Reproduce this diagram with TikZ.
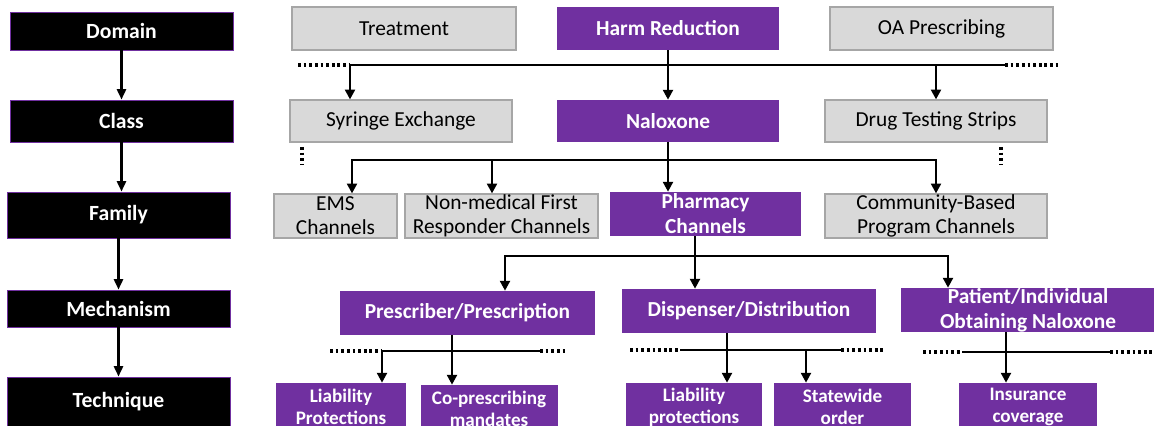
\documentclass[tikz,border=0pt]{standalone}
\usepackage{fontspec}
\setmainfont{Carlito}
\usetikzlibrary{arrows.meta}
\definecolor{nalpurple}{HTML}{7030A0}
\definecolor{optgray}{HTML}{D9D9D9}
\definecolor{optedge}{HTML}{A6A6A6}
\tikzset{
  tier/.style 2 args={draw=nalpurple, line width=0.6pt, fill=black, text=white, minimum width=223*0.025cm, minimum height=#2*0.025cm, inner sep=0pt, font=\bfseries\fontsize{15.4}{18}\selectfont},
  optbox/.style 2 args={draw=optedge, line width=0.8pt, fill=optgray, minimum width=#1*0.025cm, minimum height=#2*0.025cm, inner sep=0pt, align=center, font=\fontsize{15.2}{17.2}\selectfont},
  pickbox/.style 2 args={fill=nalpurple, text=white, minimum width=#1*0.025cm, minimum height=#2*0.025cm, inner sep=0pt, align=center, font=\bfseries\fontsize{15.2}{17.8}\selectfont},
  techbox/.style={fill=nalpurple, text=white, minimum width=#1*0.025cm, minimum height=48*0.025cm, inner sep=0pt, align=center, font=\bfseries\fontsize{13.6}{15.6}\selectfont},
  tierarrow/.style={line width=1.7pt, -{Triangle[length=7.5pt,width=6.5pt]}},
  bus/.style={line width=2.1pt},
  busarrow/.style={line width=2.1pt, -{Triangle[length=7pt,width=7pt]}},
  busdots/.style={line width=2.2pt, dash pattern=on 2pt off 2pt}
}
\begin{document}
\begin{tikzpicture}[x=0.025cm,y=-0.025cm]
\useasboundingbox (0,0) rectangle (1154,426);
\clip (0,0) rectangle (1154,426);
\node[tier={223}{38}] (dom) at (121.5,31) {Domain};
\node[tier={223}{42}] (cls) at (121.5,121) {Class};
\node[tier={223}{46}] (fam) at (118.5,215) {Family};
\node[tier={223}{37}] (mech) at (118.5,308.5) {Mechanism};
\node[tier={223}{50}] (tech) at (118.5,402) {Technique};
\draw[tierarrow] (dom.south) -- (dom.south |- cls.north);
\draw[tierarrow] (cls.south) -- (cls.south |- fam.north);
\draw[tierarrow] (fam.south) -- (fam.south |- mech.north);
\draw[tierarrow] (mech.south) -- (mech.south |- tech.north);
\node[optbox={224}{43}] (trt) at (404,28.5) {Treatment};
\node[pickbox={222}{43}] (hr) at (668,28.5) {Harm Reduction};
\node[optbox={223}{43}] (oap) at (941.5,28.5) {OA Prescribing};
\node[optbox={222}{42}] (syr) at (401,121) {Syringe Exchange};
\node[pickbox={222}{42}] (nal) at (668,121) {Naloxone};
\node[optbox={222}{42}] (dts) at (936,121) {Drug Testing Strips};
\node[optbox={123}{44}] (ems) at (335.5,216) {EMS\\Channels};
\node[optbox={193}{44}] (nmf) at (501.5,216) {Non-medical First\\Responder Channels};
\node[pickbox={191}{44}] (ph) at (705.5,214) {Pharmacy\\Channels};
\node[optbox={222}{44}] (cbp) at (936,216) {Community-Based\\Program Channels};
\node[pickbox={255}{44}] (psc) at (467.5,313) {Prescriber/Prescription};
\node[pickbox={254}{44}] (dsp) at (749,311) {Dispenser/Distribution};
\node[pickbox={254}{44}] (pat) at (1028,310) {Patient/Individual\\Obtaining Naloxone};
\node[techbox=130] (lp1) at (341,407) {Liability\\Protections};
\node[techbox=137] (cpm) at (489,409) {Co-prescribing\\mandates};
\node[techbox=136] (lp2) at (694,407) {Liability\\protections};
\node[techbox=137] (swo) at (842.5,407) {Statewide\\order};
\node[techbox=138] (ins) at (1028,407) {Insurance\\coverage};
\coordinate (a0) at (298,65);
\coordinate (a1) at (350,65);
\coordinate (a3) at (936,65);
\coordinate (a4) at (1005,65);
\coordinate (a5) at (1060,65);
\draw[bus] (a1) -- (a4);
\draw[busdots] (a0) -- (a1);
\draw[busdots] (a4) -- (a5);
\draw[busarrow] (hr) -- (nal);
\draw[busarrow] (a1) -- (a1 |- syr.north);
\draw[busarrow] (a3) -- (a3 |- dts.north);
\draw[busdots] (302,147) -- (302,164);
\draw[busdots] (1001,147) -- (1001,164);
\coordinate (b1) at (352,160);
\coordinate (b2) at (492,160);
\coordinate (b4) at (936,160);
\draw[busarrow] (b4) -- (b1) -- (b1 |- ems.north);
\draw[busarrow] (b1) -- (b4) -- (b4 |- cbp.north);
\draw[busarrow] (b2) -- (b2 |- nmf.north);
\draw[busarrow] (nal.south) -- (nal.south |- ph.north);
\coordinate (c1) at (505,256);
\coordinate (c2) at (695,256);
\coordinate (c3) at (948,256);
\draw[busarrow] (c3) -- (c1) -- (c1 |- psc.north);
\draw[busarrow] (c1) -- (c3) -- (c3 |- pat.north);
\draw[busarrow] (c2 |- ph.south) -- (c2 |- dsp.north);
\coordinate (d0) at (330,351);
\coordinate (d1) at (382,351);
\coordinate (d2) at (452,351);
\coordinate (d3) at (540,351);
\coordinate (d4) at (568,351);
\draw[bus] (d1) -- (d3);
\draw[busdots] (d0) -- (d1);
\draw[busdots] (d3) -- (d4);
\draw[busarrow] (d1) -- (d1 |- lp1.north);
\draw[busarrow] (d2 |- psc.south) -- (d2 |- cpm.north);
\coordinate (e0) at (630,350);
\coordinate (e1) at (680,350);
\coordinate (e2) at (727,350);
\coordinate (e3) at (806,350);
\coordinate (e4) at (841,350);
\coordinate (e5) at (885,350);
\draw[bus] (e1) -- (e4);
\draw[busdots] (e0) -- (e1);
\draw[busdots] (e4) -- (e5);
\draw[busarrow] (e2 |- dsp.south) -- (e2 |- lp2.north);
\draw[busarrow] (e3) -- (e3 |- swo.north);
\coordinate (f0) at (923,352);
\coordinate (f1) at (962,352);
\coordinate (f2) at (1006,352);
\coordinate (f3) at (1110,352);
\coordinate (f4) at (1154,352);
\draw[bus] (f1) -- (f3);
\draw[busdots] (f0) -- (f1);
\draw[busdots] (f3) -- (f4);
\draw[busarrow] (f2 |- pat.south) -- (f2 |- ins.north);
\end{tikzpicture}
\end{document}
